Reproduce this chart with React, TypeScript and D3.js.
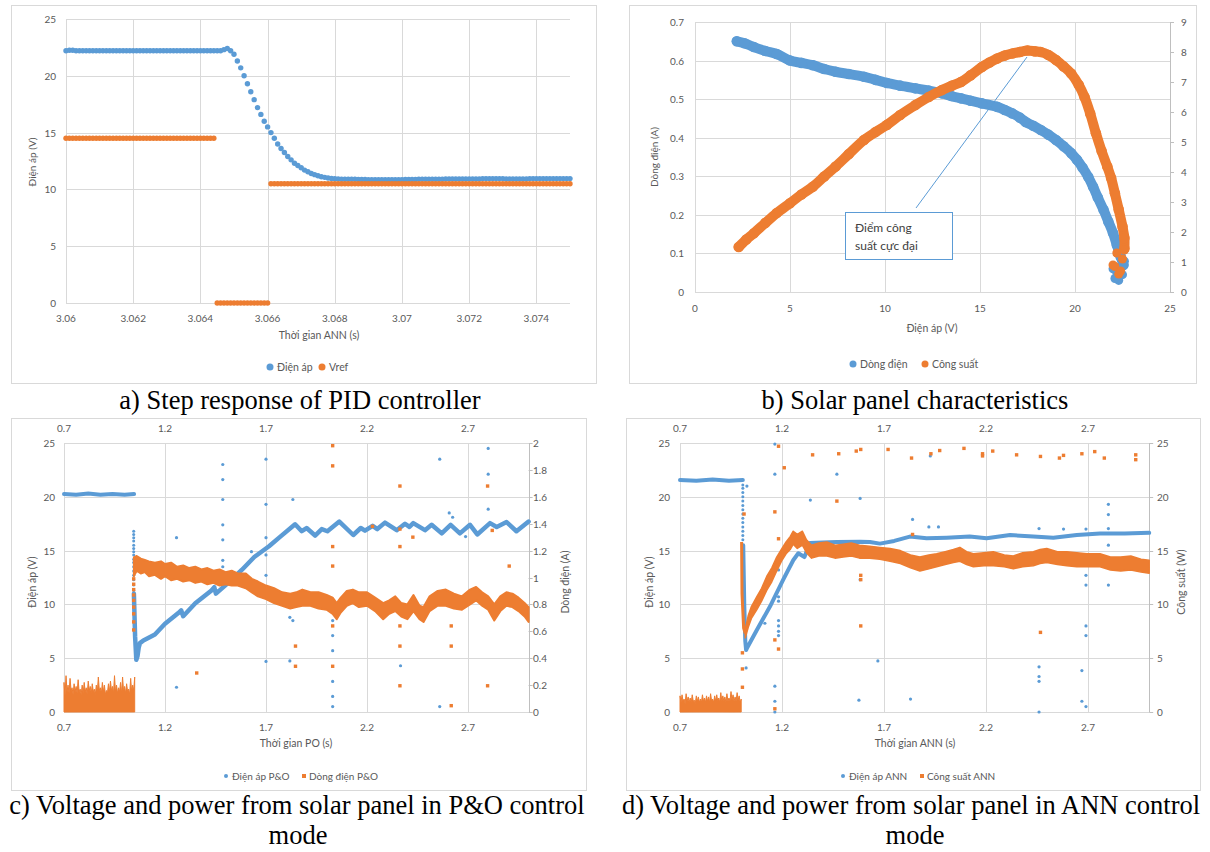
import React from 'react';
import * as d3 from 'd3';

const BLUE = '#5b9bd5';
const ORANGE = '#ed7d31';
const GRID = '#d9d9d9';
const AXIS = '#bfbfbf';
const INK = '#595959';
const SANS = 'Lato, "Open Sans", Arial, sans-serif';
const SERIF = '"Liberation Serif", "Times New Roman", serif';

// ---------- a) step response of the PID controller (one sample every 0.1 ms) ----------
const stepStart = 3.06;
const stepDt = 0.0001;
const stepVoltage = [
  22.2, 22.25, 22.25, 22.2, 22.2, 22.2, 22.2, 22.2, 22.2, 22.2,
  22.2, 22.2, 22.2, 22.2, 22.2, 22.2, 22.2, 22.2, 22.2, 22.2,
  22.2, 22.2, 22.2, 22.2, 22.2, 22.2, 22.2, 22.2, 22.2, 22.2,
  22.2, 22.2, 22.2, 22.2, 22.2, 22.2, 22.2, 22.2, 22.2, 22.2,
  22.2, 22.2, 22.2, 22.2, 22.2, 22.2, 22.2, 22.3, 22.4, 22.2,
  21.9, 21.3, 20.7, 20.0, 19.3, 18.6, 17.9, 17.2, 16.6, 16.0,
  15.5, 15.0, 14.5, 14.0, 13.6, 13.25, 12.9, 12.6, 12.3, 12.1,
  11.9, 11.7, 11.55, 11.4, 11.3, 11.2, 11.12, 11.06, 11.0, 10.97,
  10.94, 10.92, 10.9, 10.9, 10.9, 10.9, 10.9, 10.88, 10.88, 10.87,
  10.86, 10.86, 10.86, 10.86, 10.86, 10.86, 10.86, 10.86, 10.86, 10.86,
  10.86, 10.87, 10.87, 10.88, 10.88, 10.9, 10.9, 10.9, 10.9, 10.9,
  10.9, 10.9, 10.9, 10.92, 10.92, 10.92, 10.92, 10.92, 10.92, 10.92,
  10.92, 10.92, 10.92, 10.92, 10.95, 10.95, 10.95, 10.95, 10.95, 10.95,
  10.95, 10.92, 10.92, 10.92, 10.92, 10.92, 10.92, 10.92, 10.95, 10.95,
  10.95, 10.95, 10.95, 10.95, 10.95, 10.95, 10.95, 10.95, 10.95, 10.95,
  10.95,
];
const stepVref = [
  14.5, 14.5, 14.5, 14.5, 14.5, 14.5, 14.5, 14.5, 14.5, 14.5,
  14.5, 14.5, 14.5, 14.5, 14.5, 14.5, 14.5, 14.5, 14.5, 14.5,
  14.5, 14.5, 14.5, 14.5, 14.5, 14.5, 14.5, 14.5, 14.5, 14.5,
  14.5, 14.5, 14.5, 14.5, 14.5, 14.5, 14.5, 14.5, 14.5, 14.5,
  14.5, 14.5, 14.5, 14.5, 14.5, 0, 0, 0, 0, 0,
  0, 0, 0, 0, 0, 0, 0, 0, 0, 0,
  0, 10.5, 10.5, 10.5, 10.5, 10.5, 10.5, 10.5, 10.5, 10.5,
  10.5, 10.5, 10.5, 10.5, 10.5, 10.5, 10.5, 10.5, 10.5, 10.5,
  10.5, 10.5, 10.5, 10.5, 10.5, 10.5, 10.5, 10.5, 10.5, 10.5,
  10.5, 10.5, 10.5, 10.5, 10.5, 10.5, 10.5, 10.5, 10.5, 10.5,
  10.5, 10.5, 10.5, 10.5, 10.5, 10.5, 10.5, 10.5, 10.5, 10.5,
  10.5, 10.5, 10.5, 10.5, 10.5, 10.5, 10.5, 10.5, 10.5, 10.5,
  10.5, 10.5, 10.5, 10.5, 10.5, 10.5, 10.5, 10.5, 10.5, 10.5,
  10.5, 10.5, 10.5, 10.5, 10.5, 10.5, 10.5, 10.5, 10.5, 10.5,
  10.5, 10.5, 10.5, 10.5, 10.5, 10.5, 10.5, 10.5, 10.5, 10.5,
  10.5,
];
const stepTicksX = [3.06, 3.062, 3.064, 3.066, 3.068, 3.07, 3.072, 3.074];
const stepTickLabels = ['3.06', '3.062', '3.064', '3.066', '3.068', '3.07', '3.072', '3.074'];
const stepTicksY = [0, 5, 10, 15, 20, 25];

// ---------- b) solar panel characteristics ----------
const ivCurrent = [
  [2.2, 0.65], [2.6, 0.645], [3.1, 0.635], [3.7, 0.625], [4.3, 0.617], [5.0, 0.6], [5.6, 0.594],
  [6.2, 0.588], [6.8, 0.578], [7.4, 0.571], [8.1, 0.565], [8.9, 0.558], [9.5, 0.55], [10.1, 0.542],
  [10.8, 0.535], [11.6, 0.528], [12.3, 0.522], [13.0, 0.515], [13.5, 0.508], [14.0, 0.502],
  [14.5, 0.496], [15.1, 0.489], [15.9, 0.48], [16.3, 0.472], [16.7, 0.463], [17.1, 0.452],
  [17.4, 0.441], [17.8, 0.431], [18.2, 0.42], [18.6, 0.408], [19.0, 0.394], [19.4, 0.378],
  [19.8, 0.36], [20.1, 0.343], [20.4, 0.322], [20.7, 0.298], [20.95, 0.273], [21.2, 0.245],
  [21.5, 0.213], [21.75, 0.183], [22.0, 0.153], [22.2, 0.122], [22.4, 0.092], [22.55, 0.07],
];
const ivCurrentTail = [[22.5, 0.045], [22.3, 0.03], [22.1, 0.035], [22.2, 0.05], [22.6, 0.08], [22.0, 0.06]];
const pvPower = [
  [2.3, 1.5], [2.7, 1.75], [3.1, 1.96], [3.7, 2.3], [4.3, 2.63], [5.0, 2.96], [5.6, 3.25], [6.2, 3.51],
  [6.8, 3.85], [7.4, 4.18], [8.1, 4.6], [8.9, 5.07], [9.5, 5.33], [10.1, 5.57], [10.8, 5.9],
  [11.6, 6.23], [12.3, 6.5], [13.0, 6.73], [13.5, 6.87], [14.0, 7.0], [14.5, 7.22], [15.1, 7.5],
  [15.5, 7.65], [15.9, 7.78], [16.3, 7.88], [16.7, 7.95], [17.1, 8.0], [17.5, 8.05], [17.9, 8.02],
  [18.2, 8.0], [18.6, 7.9], [19.0, 7.73], [19.4, 7.52], [19.8, 7.28], [20.2, 6.9], [20.5, 6.5],
  [20.8, 5.95], [21.1, 5.29], [21.4, 4.7], [21.7, 4.18], [21.9, 3.8], [22.1, 3.29], [22.3, 2.75],
  [22.5, 2.18], [22.6, 1.8], [22.6, 1.45],
];
const pvPowerTail = [[22.1, 0.85], [22.3, 0.6], [22.5, 1.1], [22.2, 1.3], [22.0, 0.9], [22.4, 0.7], [22.6, 1.4]];
const ivTicksX = [0, 5, 10, 15, 20, 25];
const ivTicksI = [0, 0.1, 0.2, 0.3, 0.4, 0.5, 0.6, 0.7];
const ivTicksP = [0, 1, 2, 3, 4, 5, 6, 7, 8, 9];

// ---------- c) P&O control ----------
const timeTicks = [0.7, 1.2, 1.7, 2.2, 2.7];
const voltTicks = [0, 5, 10, 15, 20, 25];
const ampTicks = [0, 0.2, 0.4, 0.6, 0.8, 1, 1.2, 1.4, 1.6, 1.8, 2];
const powTicks = [0, 5, 10, 15, 20, 25];

const poVoltFlat = [[0.7, 20.25], [0.76, 20.2], [0.82, 20.3], [0.88, 20.2], [0.94, 20.25], [1.0, 20.2], [1.047, 20.25]];
const poVoltDrop = [16.8, 16.5, 16.2, 15.9, 15.5, 15.2, 14.9, 14.6, 14.2, 13.9, 13.5, 13.1, 12.7, 12.3, 11.8, 11.3];
const poVoltTrack = [
  [1.046, 11.0], [1.052, 7.0], [1.058, 4.85], [1.064, 5.2], [1.07, 6.0], [1.076, 6.4], [1.093, 6.65],
  [1.15, 7.2], [1.2, 8.2], [1.266, 9.2], [1.28, 9.45], [1.29, 8.9], [1.35, 10.1], [1.43, 11.3],
  [1.444, 11.6], [1.452, 11.0], [1.513, 12.0], [1.58, 13.2], [1.642, 14.4], [1.715, 15.4],
  [1.771, 16.3], [1.844, 17.45], [1.877, 16.8], [1.901, 17.1], [1.943, 16.4], [1.976, 17.0],
  [2.004, 16.8], [2.063, 17.7], [2.132, 16.45], [2.169, 17.1], [2.19, 16.85], [2.228, 17.3],
  [2.251, 17.0], [2.289, 17.6], [2.347, 16.9], [2.388, 17.5], [2.41, 17.2], [2.429, 17.55],
  [2.487, 16.9], [2.52, 17.4], [2.57, 16.6], [2.614, 17.4], [2.66, 16.6], [2.71, 17.4],
  [2.746, 16.5], [2.809, 17.55], [2.842, 17.2], [2.891, 17.65], [2.94, 16.8], [3.0, 17.7],
];
const poVoltOutliers = [
  [1.257, 16.2], [1.257, 2.3], [1.486, 23.0], [1.486, 21.6], [1.486, 19.75], [1.486, 17.4],
  [1.486, 16.0], [1.486, 14.1], [1.486, 13.5], [1.628, 14.9], [1.7, 23.5], [1.7, 19.3], [1.7, 16.2],
  [1.7, 14.6], [1.7, 12.7], [1.7, 4.7], [1.833, 19.75], [1.818, 8.8], [1.833, 8.5], [1.818, 4.75],
  [2.03, 8.5], [2.03, 7.1], [2.03, 5.7], [2.03, 2.84], [2.03, 1.45], [2.03, 0.5], [2.366, 4.3],
  [2.56, 23.5], [2.56, 0.5], [2.607, 18.5], [2.624, 18.1], [2.688, 16.3], [2.8, 24.5], [2.8, 22.1],
  [2.8, 18.85],
];
const poCurrNoise = [
  [0.7, 0.22], [0.705, 0.12], [0.71, 0.27], [0.715, 0.15], [0.72, 0.2], [0.725, 0.14], [0.73, 0.25],
  [0.735, 0.16], [0.74, 0.18], [0.745, 0.13], [0.75, 0.21], [0.755, 0.15], [0.76, 0.19], [0.765, 0.14],
  [0.77, 0.24], [0.775, 0.15], [0.78, 0.17], [0.785, 0.13], [0.79, 0.2], [0.795, 0.14], [0.8, 0.22],
  [0.805, 0.15], [0.81, 0.18], [0.815, 0.13], [0.82, 0.23], [0.825, 0.16], [0.83, 0.19], [0.835, 0.14],
  [0.84, 0.21], [0.845, 0.15], [0.85, 0.17], [0.855, 0.13], [0.86, 0.2], [0.865, 0.15], [0.87, 0.26],
  [0.875, 0.16], [0.88, 0.18], [0.885, 0.14], [0.89, 0.22], [0.895, 0.15], [0.9, 0.2], [0.905, 0.13],
  [0.91, 0.16], [0.915, 0.14], [0.92, 0.21], [0.925, 0.15], [0.93, 0.23], [0.935, 0.16], [0.94, 0.19],
  [0.945, 0.14], [0.95, 0.27], [0.955, 0.15], [0.96, 0.2], [0.965, 0.14], [0.97, 0.18], [0.975, 0.15],
  [0.98, 0.22], [0.985, 0.14], [0.99, 0.26], [0.995, 0.15], [1.0, 0.19], [1.005, 0.14], [1.01, 0.21],
  [1.015, 0.15], [1.02, 0.17], [1.025, 0.13], [1.03, 0.25], [1.035, 0.15], [1.04, 0.2], [1.045, 0.16],
  [1.05, 0.26],
];
const poCurrDrop = [0.61, 0.67, 0.73, 0.78, 0.83, 0.87, 0.91, 0.95, 0.99];
const poCurrBand = [
  [1.046, 1.01, 1.15], [1.06, 1.05, 1.16], [1.08, 1.03, 1.14], [1.1, 1.04, 1.13], [1.12, 1.01, 1.12],
  [1.15, 1.02, 1.11], [1.18, 0.99, 1.12], [1.2, 1.01, 1.1], [1.23, 0.98, 1.11], [1.26, 0.99, 1.08],
  [1.29, 0.97, 1.09], [1.32, 0.98, 1.07], [1.35, 0.96, 1.08], [1.38, 0.97, 1.06], [1.41, 0.95, 1.07],
  [1.44, 0.96, 1.05], [1.47, 0.94, 1.06], [1.5, 0.95, 1.04], [1.53, 0.94, 1.05], [1.56, 0.94, 1.03],
  [1.6, 0.92, 1.03], [1.63, 0.89, 0.99], [1.66, 0.86, 0.97], [1.7, 0.84, 0.94], [1.74, 0.81, 0.92],
  [1.78, 0.79, 0.89], [1.82, 0.77, 0.88], [1.85, 0.78, 0.89], [1.88, 0.79, 0.91], [1.92, 0.79, 0.89],
  [1.96, 0.77, 0.89], [2.0, 0.76, 0.87], [2.03, 0.73, 0.85], [2.05, 0.69, 0.81], [2.07, 0.74, 0.85],
  [2.1, 0.79, 0.9], [2.13, 0.81, 0.91], [2.16, 0.78, 0.89], [2.2, 0.79, 0.89], [2.24, 0.75, 0.85],
  [2.28, 0.69, 0.81], [2.31, 0.73, 0.83], [2.34, 0.75, 0.86], [2.37, 0.71, 0.81], [2.4, 0.69, 0.8],
  [2.43, 0.75, 0.87], [2.46, 0.69, 0.79], [2.48, 0.67, 0.78], [2.51, 0.75, 0.86], [2.55, 0.79, 0.9],
  [2.59, 0.79, 0.91], [2.63, 0.77, 0.88], [2.67, 0.76, 0.86], [2.71, 0.8, 0.91], [2.74, 0.83, 0.93],
  [2.77, 0.79, 0.89], [2.8, 0.76, 0.86], [2.83, 0.68, 0.8], [2.86, 0.75, 0.86], [2.89, 0.79, 0.89],
  [2.92, 0.78, 0.88], [2.95, 0.75, 0.85], [2.98, 0.71, 0.81], [3.0, 0.67, 0.78],
];
const poCurrOutliers = [
  [1.357, 0.29], [1.846, 0.49], [1.846, 0.34], [2.03, 1.98], [2.03, 1.83], [2.03, 1.23], [2.03, 1.085],
  [2.03, 0.64], [2.03, 0.34], [2.227, 1.38], [2.363, 1.68], [2.363, 1.36], [2.363, 1.23], [2.363, 0.64],
  [2.363, 0.49], [2.363, 0.195], [2.427, 1.3], [2.617, 0.64], [2.617, 0.49], [2.617, 0.047],
  [2.797, 1.68], [2.797, 0.195], [2.82, 1.35], [2.904, 1.085],
];

// ---------- d) ANN control ----------
const annVoltFlat = [[0.7, 21.55], [0.78, 21.5], [0.86, 21.6], [0.94, 21.5], [1.008, 21.55]];
const annVoltDrop = [21.1, 20.8, 20.4, 20.0, 19.6, 19.2, 18.8, 18.4, 18.0, 17.6, 17.2, 16.8, 16.4, 16.0];
const annVoltTrack = [
  [1.01, 15.5], [1.015, 10.0], [1.02, 6.6], [1.024, 5.76], [1.03, 6.0], [1.076, 7.6], [1.141, 9.8],
  [1.206, 12.3], [1.255, 14.1], [1.28, 14.75], [1.31, 14.4], [1.337, 15.7], [1.4, 15.75],
  [1.468, 15.8], [1.582, 15.83], [1.631, 15.8], [1.68, 15.65], [1.75, 15.9], [1.827, 16.3],
  [1.909, 16.14], [2.007, 16.2], [2.12, 16.3], [2.203, 16.14], [2.318, 16.45], [2.432, 16.3],
  [2.53, 16.2], [2.645, 16.45], [2.759, 16.6], [2.88, 16.6], [3.0, 16.65],
];
const annVoltOutliers = [
  [1.165, 24.9], [1.165, 22.1], [1.165, 2.4], [1.165, 1.0], [1.165, 0], [1.183, 13.2], [1.183, 10.7],
  [1.183, 10.3], [1.183, 8.5], [1.183, 8.0], [1.183, 7.5], [1.183, 7.1], [1.116, 8.25], [1.024, 4.1],
  [1.028, 21.0], [1.339, 19.7], [1.469, 22.1], [1.583, 19.85], [1.583, 12.3], [1.577, 1.1],
  [1.67, 4.75], [1.83, 1.2], [1.84, 17.9], [1.92, 17.2], [1.967, 17.2], [1.927, 23.8], [2.46, 17.05],
  [2.46, 4.2], [2.46, 3.3], [2.46, 2.85], [2.46, 0], [2.58, 17.0], [2.67, 3.85], [2.67, 1.0],
  [2.69, 17.0], [2.69, 12.7], [2.69, 11.8], [2.69, 8.0], [2.69, 7.1], [2.69, 0.5], [2.8, 19.3],
  [2.8, 18.35], [2.8, 17.05], [2.8, 15.5], [2.8, 11.8],
];
const annPowNoise = [
  [0.7, 1.5], [0.705, 0.9], [0.71, 1.6], [0.715, 1.0], [0.72, 1.2], [0.725, 0.8], [0.73, 1.7],
  [0.735, 1.0], [0.74, 1.4], [0.745, 0.9], [0.75, 1.3], [0.755, 0.9], [0.76, 1.6], [0.765, 1.0],
  [0.77, 1.1], [0.775, 0.8], [0.78, 1.5], [0.785, 1.0], [0.79, 1.4], [0.795, 0.9], [0.8, 1.2],
  [0.805, 0.9], [0.81, 1.6], [0.815, 1.0], [0.82, 1.3], [0.825, 0.9], [0.83, 1.5], [0.835, 1.0],
  [0.84, 1.4], [0.845, 0.9], [0.85, 1.7], [0.855, 1.0], [0.86, 1.2], [0.865, 0.9], [0.87, 1.5],
  [0.875, 1.0], [0.88, 1.6], [0.885, 1.0], [0.89, 1.3], [0.895, 0.9], [0.9, 1.8], [0.905, 1.0],
  [0.91, 1.5], [0.915, 1.0], [0.92, 1.4], [0.925, 0.9], [0.93, 1.7], [0.935, 1.0], [0.94, 1.3],
  [0.945, 1.0], [0.95, 1.9], [0.955, 1.1], [0.96, 1.6], [0.965, 1.0], [0.97, 1.4], [0.975, 1.0],
  [0.98, 1.8], [0.985, 1.1], [0.99, 1.5], [0.995, 0.9], [1.0, 1.2],
];
const annPowStem = [[1.002, 15.8], [1.004, 11.0], [1.012, 7.8], [1.02, 7.3]];
const annPowBand = [
  [1.02, 6.9, 7.7], [1.035, 7.9, 9.0], [1.05, 8.7, 9.8], [1.076, 9.5, 10.7], [1.1, 10.3, 11.5],
  [1.125, 11.3, 12.6], [1.15, 12.1, 13.4], [1.174, 13.1, 14.4], [1.2, 14.1, 15.2], [1.22, 14.7, 15.8],
  [1.24, 15.1, 16.3], [1.255, 15.6, 16.8], [1.275, 15.2, 16.5], [1.3, 15.5, 16.8], [1.32, 14.8, 16.0],
  [1.345, 14.3, 15.5], [1.38, 14.5, 15.7], [1.42, 14.5, 15.8], [1.46, 14.3, 15.5], [1.5, 14.4, 15.6],
  [1.54, 14.5, 15.7], [1.58, 14.3, 15.5], [1.63, 14.3, 15.4], [1.68, 14.2, 15.3], [1.73, 14.0, 15.2],
  [1.78, 13.8, 15.0], [1.83, 13.4, 14.6], [1.876, 13.1, 14.4], [1.92, 13.3, 14.6], [1.958, 13.5, 14.7],
  [2.0, 13.7, 14.9], [2.04, 13.9, 15.1], [2.072, 14.0, 15.3], [2.105, 13.7, 14.9], [2.138, 13.5, 14.7],
  [2.19, 13.6, 14.8], [2.236, 13.6, 14.9], [2.29, 13.5, 14.6], [2.334, 13.3, 14.5], [2.38, 13.5, 14.8],
  [2.432, 13.6, 14.9], [2.465, 13.8, 15.1], [2.498, 13.9, 15.2], [2.55, 13.7, 14.9], [2.596, 13.6, 14.9],
  [2.645, 13.5, 14.8], [2.694, 13.5, 14.7], [2.759, 13.5, 14.7], [2.81, 13.2, 14.4], [2.86, 13.1, 14.4],
  [2.91, 13.2, 14.5], [2.96, 13.0, 14.2], [3.0, 12.9, 14.1],
];
const annPowOutliers = [
  [1.183, 24.7], [1.211, 22.7], [1.165, 18.6], [1.183, 16.1], [1.165, 6.7], [1.183, 5.85], [1.165, 0.3],
  [1.006, 5.5], [1.006, 4.0], [1.006, 2.3], [1.014, 18.4], [1.35, 23.9], [1.478, 24.0], [1.469, 19.6],
  [1.564, 24.25], [1.586, 24.4], [1.586, 12.7], [1.586, 12.3], [1.586, 8.0], [1.72, 24.4], [1.835, 23.6],
  [1.84, 16.5], [1.93, 24.0], [1.973, 24.3], [2.092, 24.5], [2.183, 23.8], [2.183, 24.0], [2.233, 24.25],
  [2.35, 23.9], [2.467, 23.75], [2.467, 7.4], [2.56, 23.6], [2.58, 23.85], [2.67, 24.0], [2.733, 24.2],
  [2.78, 23.6], [2.934, 23.9], [2.934, 23.45],
];

const px = (v: number) => Math.round(v) + 0.5;

function T({ x, y, children, anchor = 'middle', size = 10, rot = false, fill = INK, family = SANS }: any) {
  return (
    <text
      x={x}
      y={y}
      textAnchor={anchor}
      dominantBaseline="central"
      fontSize={size}
      fontFamily={family}
      fill={fill}
      transform={rot ? `rotate(-90 ${x} ${y})` : undefined}
    >
      {children}
    </text>
  );
}

function Frame({ x0, y0, x1, y1 }: any) {
  return <rect x={x0 + 0.5} y={y0 + 0.5} width={x1 - x0} height={y1 - y0} fill="#fff" stroke={GRID} />;
}

function PanelA() {
  const x = d3.scaleLinear().domain([3.06, 3.075]).range([66, 570]);
  const y = d3.scaleLinear().domain([0, 25]).range([303, 19]);
  return (
    <g>
      <Frame x0={11} y0={5} x1={596} y1={383} />
      {stepTicksY.map((v) => (
        <line key={v} x1={66} x2={570} y1={px(y(v))} y2={px(y(v))} stroke={GRID} />
      ))}
      {stepTicksX.map((t) => (
        <line key={t} x1={px(x(t))} x2={px(x(t))} y1={19} y2={303} stroke={GRID} />
      ))}
      {stepTicksY.map((v) => (
        <T key={v} x={56} y={y(v)} anchor="end">{v}</T>
      ))}
      {stepTicksX.map((t, i) => (
        <T key={t} x={x(t)} y={318}>{stepTickLabels[i]}</T>
      ))}
      {stepVoltage.map((v, i) => (
        <circle key={'v' + i} cx={x(stepStart + i * stepDt)} cy={y(v)} r={2.7} fill={BLUE} />
      ))}
      {stepVref.map((v, i) => (
        <circle key={'r' + i} cx={x(stepStart + i * stepDt)} cy={y(v)} r={2.7} fill={ORANGE} />
      ))}
      <T x={32} y={162} rot>Điện áp (V)</T>
      <T x={319} y={335} size={10.5}>Thời gian ANN (s)</T>
      <circle cx={270} cy={367} r={3.5} fill={BLUE} />
      <T x={277} y={367} anchor="start" size={10.5}>Điện áp</T>
      <circle cx={322} cy={367} r={3.5} fill={ORANGE} />
      <T x={329} y={367} anchor="start" size={10.5}>Vref</T>
    </g>
  );
}

function PanelB() {
  const x = d3.scaleLinear().domain([0, 25]).range([695, 1170]);
  const yI = d3.scaleLinear().domain([0, 0.7]).range([292, 22]);
  const yP = d3.scaleLinear().domain([0, 9]).range([292, 22]);
  const lineI = d3.line<number[]>().x((d) => x(d[0])).y((d) => yI(d[1])).curve(d3.curveCatmullRom);
  const lineP = d3.line<number[]>().x((d) => x(d[0])).y((d) => yP(d[1])).curve(d3.curveCatmullRom);
  return (
    <g>
      <Frame x0={629} y0={5} x1={1196} y1={383} />
      {ivTicksI.map((v) => (
        <line key={v} x1={695} x2={1170} y1={px(yI(v))} y2={px(yI(v))} stroke={GRID} />
      ))}
      {ivTicksX.slice(0, 5).map((t) => (
        <line key={t} x1={px(x(t))} x2={px(x(t))} y1={22} y2={292} stroke={GRID} />
      ))}
      <line x1={px(1170)} x2={px(1170)} y1={22} y2={292} stroke={AXIS} />
      {ivTicksP.map((v) => (
        <line key={v} x1={1170} x2={1174} y1={px(yP(v))} y2={px(yP(v))} stroke={AXIS} />
      ))}
      {ivTicksI.map((v) => (
        <T key={v} x={684} y={yI(v)} anchor="end">{v}</T>
      ))}
      {ivTicksP.map((v) => (
        <T key={v} x={1181} y={yP(v)} anchor="start">{v}</T>
      ))}
      {ivTicksX.map((t) => (
        <T key={t} x={x(t)} y={308}>{t}</T>
      ))}
      <path d={lineI(ivCurrent) || ''} fill="none" stroke={BLUE} strokeWidth={10} strokeLinecap="round" strokeLinejoin="round" />
      {ivCurrent.map((d, i) => (
        <circle key={'ic' + i} cx={x(d[0])} cy={yI(d[1])} r={5.3} fill={BLUE} />
      ))}
      {ivCurrentTail.map((d, i) => (
        <circle key={'it' + i} cx={x(d[0])} cy={yI(d[1])} r={4.5} fill={BLUE} />
      ))}
      <path d={lineP(pvPower) || ''} fill="none" stroke={ORANGE} strokeWidth={10} strokeLinecap="round" strokeLinejoin="round" />
      {pvPower.map((d, i) => (
        <circle key={'pc' + i} cx={x(d[0])} cy={yP(d[1])} r={5.3} fill={ORANGE} />
      ))}
      {pvPowerTail.map((d, i) => (
        <circle key={'pt' + i} cx={x(d[0])} cy={yP(d[1])} r={4.5} fill={ORANGE} />
      ))}
      <line x1={916} y1={208} x2={1027} y2={57} stroke={BLUE} strokeWidth={1} />
      <rect x={845.5} y={212.5} width={107} height={47} fill="#fff" stroke={BLUE} strokeWidth={1} />
      <text x={855} y={232} fontSize={12} fontFamily={SANS} fill="#404040">Điểm công</text>
      <text x={855} y={250} fontSize={12} fontFamily={SANS} fill="#404040">suất cực đại</text>
      <T x={654} y={157} rot>Dòng điện (A)</T>
      <T x={932} y={328} size={10.5}>Điện áp (V)</T>
      <circle cx={853} cy={364} r={3.5} fill={BLUE} />
      <T x={860} y={364} anchor="start" size={10.5}>Dòng điện</T>
      <circle cx={925} cy={364} r={3.5} fill={ORANGE} />
      <T x={932} y={364} anchor="start" size={10.5}>Công suất</T>
    </g>
  );
}

function TimeFrame({ x, yL, yR, rightTicks, left, right }: any) {
  const [x0, x1] = x.range();
  const [yb, yt] = yL.range();
  return (
    <g>
      {voltTicks.map((v) => (
        <line key={v} x1={x0} x2={x1} y1={px(yL(v))} y2={px(yL(v))} stroke={GRID} />
      ))}
      {timeTicks.map((t) => (
        <line key={t} x1={px(x(t))} x2={px(x(t))} y1={yt} y2={yb} stroke={GRID} />
      ))}
      <line x1={px(x1)} x2={px(x1)} y1={yt} y2={yb} stroke={AXIS} />
      {rightTicks.map((v: number) => (
        <line key={v} x1={x1} x2={x1 + 4} y1={px(yR(v))} y2={px(yR(v))} stroke={AXIS} />
      ))}
      {voltTicks.map((v) => (
        <T key={v} x={left} y={yL(v)} anchor="end">{v}</T>
      ))}
      {rightTicks.map((v: number) => (
        <T key={v} x={right} y={yR(v)} anchor="start">{v}</T>
      ))}
      {timeTicks.map((t) => (
        <g key={t}>
          <T x={x(t)} y={428}>{t}</T>
          <T x={x(t)} y={727}>{t}</T>
        </g>
      ))}
    </g>
  );
}

function PanelC() {
  const x = d3.scaleLinear().domain([0.7, 3.0]).range([64, 528.6]);
  const yV = d3.scaleLinear().domain([0, 25]).range([712, 443]);
  const yA = d3.scaleLinear().domain([0, 2]).range([712, 443]);
  const lineV = d3.line<number[]>().x((d) => x(d[0])).y((d) => yV(d[1]));
  const noise = d3.area<number[]>().x((d) => x(d[0])).y0(yA(0)).y1((d) => yA(d[1]));
  const band = d3.area<number[]>().x((d) => x(d[0])).y0((d) => yA(d[1])).y1((d) => yA(d[2]));
  return (
    <g>
      <Frame x0={11} y0={418} x1={586} y1={790} />
      <TimeFrame x={x} yL={yV} yR={yA} rightTicks={ampTicks} left={55} right={533} />
      <path d={lineV(poVoltFlat) || ''} fill="none" stroke={BLUE} strokeWidth={4} strokeLinecap="round" />
      {poVoltDrop.map((v, i) => (
        <circle key={'vd' + i} cx={x(1.045)} cy={yV(v)} r={1.5} fill={BLUE} />
      ))}
      <path d={lineV(poVoltTrack) || ''} fill="none" stroke={BLUE} strokeWidth={4.5} strokeLinejoin="round" strokeLinecap="round" />
      {poVoltOutliers.map((d, i) => (
        <circle key={'vo' + i} cx={x(d[0])} cy={yV(d[1])} r={1.6} fill={BLUE} />
      ))}
      <path d={noise(poCurrNoise) || ''} fill={ORANGE} stroke={ORANGE} strokeWidth={1} />
      {poCurrDrop.map((a, i) => (
        <rect key={'cd' + i} x={x(1.045) - 1.7} y={yA(a) - 1.7} width={3.4} height={3.4} fill={ORANGE} />
      ))}
      <path d={band(poCurrBand) || ''} fill={ORANGE} stroke={ORANGE} strokeWidth={2} strokeLinejoin="round" />
      {poCurrOutliers.map((d, i) => (
        <rect key={'co' + i} x={x(d[0]) - 1.7} y={yA(d[1]) - 1.7} width={3.4} height={3.4} fill={ORANGE} />
      ))}
      <T x={32} y={582} rot size={10.5}>Điện áp (V)</T>
      <T x={565} y={582} rot size={10.5}>Dòng điện (A)</T>
      <T x={296} y={743} size={10.5}>Thời gian PO (s)</T>
      <circle cx={226} cy={776} r={2} fill={BLUE} />
      <T x={232} y={776} anchor="start" size={10}>Điện áp P&amp;O</T>
      <rect x={302} y={774} width={4} height={4} fill={ORANGE} />
      <T x={309} y={776} anchor="start" size={10}>Dòng điện P&amp;O</T>
    </g>
  );
}

function PanelD() {
  const x = d3.scaleLinear().domain([0.7, 3.0]).range([680, 1149.2]);
  const yV = d3.scaleLinear().domain([0, 25]).range([712, 443]);
  const yW = d3.scaleLinear().domain([0, 25]).range([712, 443]);
  const lineV = d3.line<number[]>().x((d) => x(d[0])).y((d) => yV(d[1]));
  const lineW = d3.line<number[]>().x((d) => x(d[0])).y((d) => yW(d[1]));
  const noise = d3.area<number[]>().x((d) => x(d[0])).y0(yW(0)).y1((d) => yW(d[1]));
  const band = d3.area<number[]>().x((d) => x(d[0])).y0((d) => yW(d[1])).y1((d) => yW(d[2]));
  return (
    <g>
      <Frame x0={626} y0={418} x1={1200} y1={790} />
      <TimeFrame x={x} yL={yV} yR={yW} rightTicks={powTicks} left={670} right={1157} />
      <path d={lineV(annVoltFlat) || ''} fill="none" stroke={BLUE} strokeWidth={4} strokeLinecap="round" />
      {annVoltDrop.map((v, i) => (
        <circle key={'vd' + i} cx={x(1.008)} cy={yV(v)} r={1.5} fill={BLUE} />
      ))}
      <path d={lineV(annVoltTrack) || ''} fill="none" stroke={BLUE} strokeWidth={4} strokeLinejoin="round" strokeLinecap="round" />
      {annVoltOutliers.map((d, i) => (
        <circle key={'vo' + i} cx={x(d[0])} cy={yV(d[1])} r={1.6} fill={BLUE} />
      ))}
      <path d={noise(annPowNoise) || ''} fill={ORANGE} stroke={ORANGE} strokeWidth={1} />
      <path d={lineW(annPowStem) || ''} fill="none" stroke={ORANGE} strokeWidth={3} strokeLinejoin="round" />
      <path d={band(annPowBand) || ''} fill={ORANGE} stroke={ORANGE} strokeWidth={1.5} strokeLinejoin="round" />
      {annPowOutliers.map((d, i) => (
        <rect key={'po' + i} x={x(d[0]) - 1.7} y={yW(d[1]) - 1.7} width={3.4} height={3.4} fill={ORANGE} />
      ))}
      <T x={649} y={582} rot size={10.5}>Điện áp (V)</T>
      <T x={1181} y={582} rot size={10.5}>Công suất (W)</T>
      <T x={915} y={743} size={10.5}>Thời gian ANN (s)</T>
      <circle cx={843} cy={776} r={2} fill={BLUE} />
      <T x={849} y={776} anchor="start" size={10}>Điện áp ANN</T>
      <rect x={920} y={774} width={4} height={4} fill={ORANGE} />
      <T x={927} y={776} anchor="start" size={10}>Công suất ANN</T>
    </g>
  );
}

function Caption({ x, y, children }: any) {
  return (
    <text x={x} y={y} textAnchor="middle" fontSize={26.5} fontFamily={SERIF} fill="#000">
      {children}
    </text>
  );
}

export default function App() {
  return (
    <div style={{ position: 'absolute', left: 0, top: 0 }}>
      <svg width={1210} height={852} viewBox="0 0 1210 852" style={{ display: 'block', background: '#fff' }}>
        <PanelA />
        <PanelB />
        <PanelC />
        <PanelD />
        <Caption x={300} y={409}>a) Step response of PID controller</Caption>
        <Caption x={915} y={409}>b) Solar panel characteristics</Caption>
        <Caption x={297} y={814}>c) Voltage and power from solar panel in P&amp;O control</Caption>
        <Caption x={298} y={844}>mode</Caption>
        <Caption x={911} y={814}>d) Voltage and power from solar panel in ANN control</Caption>
        <Caption x={915} y={844}>mode</Caption>
      </svg>
    </div>
  );
}
